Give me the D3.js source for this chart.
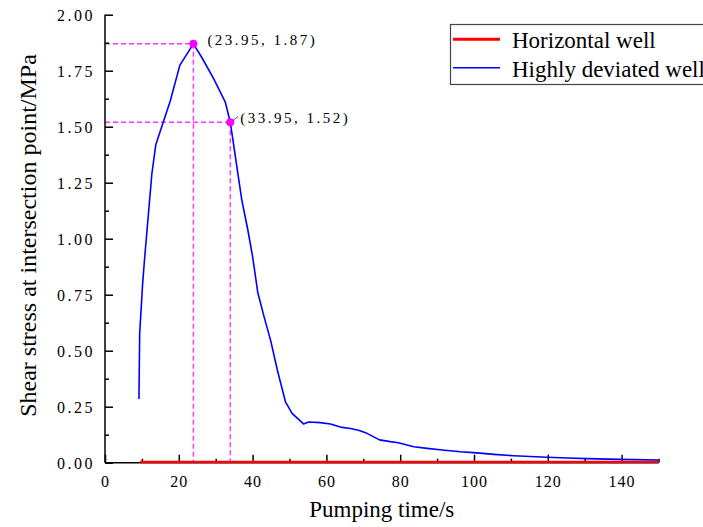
<!DOCTYPE html>
<html>
<head>
<meta charset="utf-8">
<script src="https://cdn.jsdelivr.net/npm/d3@7"></script>
<style>
  html, body { margin: 0; padding: 0; background: #fff; }
  svg { display: block; }
  text { font-family: "Liberation Serif", "Times New Roman", serif; fill: #000; }
</style>
</head>
<body>
<svg id="chart" width="703" height="527"></svg>
<script>
// ---------- data ----------
const seriesNames = ["Horizontal well", "Highly deviated well"];
const seriesColors = ["#ff0000", "#0000ff"];

const timeHorizontal = [9.5, 20, 30, 40, 50, 60, 70, 80, 90, 100, 110, 120, 130, 140, 150];
const stressHorizontal = [0.003, 0.003, 0.003, 0.003, 0.003, 0.003, 0.003, 0.003, 0.003, 0.003, 0.003, 0.003, 0.003, 0.003, 0.003];

const timeDeviated = [9.2, 9.4, 10.2, 10.7, 11.3, 12.7, 13.75, 15.5, 17.6, 20.3, 23.95, 26.2, 29.4, 32.6, 33.95,
  37.1, 38.7, 40.0, 41.4, 43.1, 44.9, 46.7, 48.9, 50.7, 53.8, 55.2, 58.3, 61.1, 63.8, 66.5, 68.7, 71.0, 74.4,
  77.3, 79.5, 83.7, 87.3, 91.4, 96.3, 99.9, 105.4, 110.8, 119.8, 125.2, 130.7, 139.7, 150];
const stressDeviated = [0.284, 0.578, 0.80, 0.905, 1.02, 1.29, 1.418, 1.507, 1.61, 1.775, 1.87, 1.81, 1.716, 1.61, 1.52,
  1.17, 1.04, 0.92, 0.76, 0.652, 0.545, 0.414, 0.272, 0.22, 0.173, 0.182, 0.179, 0.173, 0.159, 0.153, 0.145, 0.131, 0.102,
  0.094, 0.089, 0.071, 0.064, 0.057, 0.049, 0.045, 0.037, 0.031, 0.024, 0.021, 0.018, 0.015, 0.012];

const markTimes = [23.95, 33.95];
const markStress = [1.87, 1.52];
const markLabels = ["(23.95, 1.87)", "(33.95, 1.52)"];

const xTickValues = [0, 20, 40, 60, 80, 100, 120, 140];
const xMinorValues = [10, 30, 50, 70, 90, 110, 130, 150];
const yTickValues = [0, 0.25, 0.5, 0.75, 1.0, 1.25, 1.5, 1.75, 2.0];
const yMinorValues = [0.125, 0.375, 0.625, 0.875, 1.125, 1.375, 1.625, 1.875];

const xTitle = "Pumping time/s";
const yTitle = "Shear stress at intersection point/MPa";

// ---------- layout ----------
const FONT = "Liberation Serif, Times New Roman, serif";
const svg = d3.select("#chart");
const x = d3.scaleLinear().domain([0, 150]).range([105, 658.5]);
const y = d3.scaleLinear().domain([0, 2]).range([462.7, 14.7]);

// dashed guide lines
const guides = svg.append("g");
markTimes.forEach((t, i) => {
  const s = markStress[i];
  guides.append("line")
    .attr("x1", x(0)).attr("x2", x(t)).attr("y1", y(s)).attr("y2", y(s))
    .attr("stroke", "#ff33ff").attr("stroke-width", 1.4).attr("stroke-dasharray", "5,3");
  guides.append("line")
    .attr("x1", x(t)).attr("x2", x(t)).attr("y1", y(s)).attr("y2", y(0))
    .attr("stroke", "#ff33ff").attr("stroke-width", 1.4).attr("stroke-dasharray", "5,3");
});

// axes
const xAxis = d3.axisBottom(x).tickValues(xTickValues).tickSize(-8).tickFormat(d3.format("d"));
const gx = svg.append("g").attr("transform", `translate(0,${y(0)})`).call(xAxis)
  .attr("font-family", FONT).attr("font-size", 16);
gx.select(".domain").attr("stroke", "#000").attr("stroke-width", 1.5).attr("d", `M${x(0)},0H${x(150)}`);
gx.selectAll(".tick line").attr("stroke", "#000").attr("stroke-width", 1.5);
gx.selectAll(".tick text").attr("y", 24).attr("dy", 0)
  .attr("font-family", FONT).attr("font-size", 16).attr("letter-spacing", "1px").attr("fill", "#111");
const gxm = svg.append("g").attr("transform", `translate(0,${y(0)})`)
  .call(d3.axisBottom(x).tickValues(xMinorValues).tickSize(-4).tickFormat(""));
gxm.select(".domain").remove();
gxm.selectAll(".tick line").attr("stroke", "#000").attr("stroke-width", 1.5);

const yAxis = d3.axisLeft(y).tickValues(yTickValues).tickSize(-8).tickFormat(d3.format(".2f"));
const gy = svg.append("g").attr("transform", `translate(${x(0)},0)`).call(yAxis)
  .attr("font-family", FONT).attr("font-size", 16);
gy.select(".domain").attr("stroke", "#000").attr("stroke-width", 1.5).attr("d", `M0,${y(0)}V${y(2)}`);
gy.selectAll(".tick line").attr("stroke", "#000").attr("stroke-width", 1.5);
gy.selectAll(".tick text").attr("x", -10).attr("dy", "0.35em")
  .attr("font-family", FONT).attr("font-size", 16).attr("letter-spacing", "2.5px").attr("fill", "#111");
const gym = svg.append("g").attr("transform", `translate(${x(0)},0)`)
  .call(d3.axisLeft(y).tickValues(yMinorValues).tickSize(-4).tickFormat(""));
gym.select(".domain").remove();
gym.selectAll(".tick line").attr("stroke", "#000").attr("stroke-width", 1.5);

// series
const line = d3.line().x(d => x(d[0])).y(d => y(d[1]));
svg.append("path")
  .datum(timeHorizontal.map((t, i) => [t, stressHorizontal[i]]))
  .attr("d", line).attr("fill", "none").attr("stroke", seriesColors[0]).attr("stroke-width", 2.5);
svg.append("path")
  .datum(timeDeviated.map((t, i) => [t, stressDeviated[i]]))
  .attr("d", line).attr("fill", "none").attr("stroke", seriesColors[1]).attr("stroke-width", 1.6)
  .attr("stroke-linejoin", "round");

// markers and labels
markTimes.forEach((t, i) => {
  const s = markStress[i];
  svg.append("circle").attr("cx", x(t)).attr("cy", y(s)).attr("r", 4).attr("fill", "#ff00ff");
});
svg.append("text").attr("x", x(markTimes[0]) + 14).attr("y", y(markStress[0]) + 1)
  .style("font-size", "15px").style("letter-spacing", "2.5px").attr("fill", "#111").text(markLabels[0]);
svg.append("line")
  .attr("x1", x(markTimes[1]) + 3).attr("y1", y(markStress[1]) - 2)
  .attr("x2", x(markTimes[1]) + 8).attr("y2", y(markStress[1]) - 6)
  .attr("stroke", "#333").attr("stroke-width", 0.8);
svg.append("text").attr("x", x(markTimes[1]) + 10).attr("y", y(markStress[1]) + 1)
  .style("font-size", "15px").style("letter-spacing", "2.5px").attr("fill", "#111").text(markLabels[1]);

// axis titles
svg.append("text").attr("x", (x(0) + x(150)) / 2).attr("y", 516.7).attr("text-anchor", "middle")
  .style("font-size", "23px").text(xTitle);
svg.append("text").attr("transform", `translate(35.5,${235.5}) rotate(-90)`).attr("text-anchor", "middle")
  .style("font-size", "24px").text(yTitle);

// legend
const lg = svg.append("g");
lg.append("rect").attr("x", 450.5).attr("y", 24.5).attr("width", 300).attr("height", 60)
  .attr("fill", "#fff").attr("stroke", "#444").attr("stroke-width", 1.2);
const legendY = [39.3, 67.7];
const legendW = [3, 1.5];
const legendBase = [48.3, 76.7];
seriesNames.forEach((n, i) => {
  lg.append("line").attr("x1", 453).attr("x2", 500).attr("y1", legendY[i]).attr("y2", legendY[i])
    .attr("stroke", seriesColors[i]).attr("stroke-width", legendW[i]);
  lg.append("text").attr("x", 512).attr("y", legendBase[i]).style("font-size", "23px").text(n);
});
</script>
</body>
</html>
